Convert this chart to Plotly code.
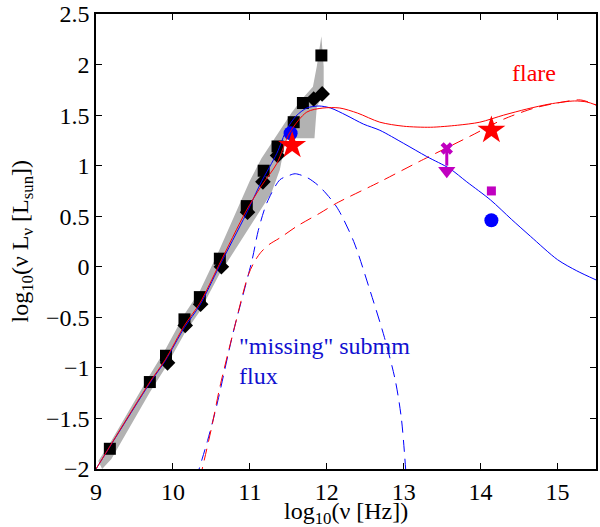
import plotly.graph_objects as go

# observed points (log10 nu, log10 nu L_nu)
sq_x = [9.18, 9.70, 9.91, 10.15, 10.35, 10.61, 10.96, 11.18, 11.36, 11.57, 11.69, 11.93]
sq_y = [-1.80, -1.14, -0.88, -0.52, -0.30, 0.08, 0.60, 0.95, 1.19, 1.43, 1.62, 2.09]
dia_x = [9.93, 10.16, 10.36, 10.63, 10.97, 11.17, 11.36, 11.83, 11.94]
dia_y = [-0.95, -0.58, -0.37, 0.00, 0.54, 0.84, 1.10, 1.66, 1.71]

# grey uncertainty band (upper edge going up, then lower edge coming back)
band_up_x = [9.03, 9.2, 9.7, 9.9, 10.15, 10.35, 10.6, 10.85, 11.0, 11.15, 11.35, 11.54, 11.69, 11.82, 11.87, 11.93]
band_up_y = [-1.92, -1.72, -1.07, -0.82, -0.47, -0.24, 0.16, 0.60, 0.85, 1.07, 1.30, 1.52, 1.67, 1.78, 1.98, 2.28]
band_lo_x = [11.96, 11.96, 11.87, 11.84, 11.47, 11.39, 11.28, 11.07, 10.9, 10.6, 10.35, 10.15, 9.9, 9.7, 9.2, 9.08]
band_lo_y = [1.98, 1.72, 1.58, 1.27, 1.27, 0.96, 0.73, 0.48, 0.28, -0.08, -0.44, -0.66, -1.00, -1.24, -1.90, -2.00]

# model curves
blue_x = [9.0, 9.7, 9.9, 10.15, 10.35, 10.6, 10.95, 11.15, 11.35, 11.48, 11.6, 11.74, 11.9, 12.05, 12.25, 12.48,
          12.69, 13.0, 13.3, 13.6, 13.82, 14.13, 14.4, 14.65, 15.0, 15.25, 15.5]
blue_y = [-2.0, -1.15, -0.93, -0.60, -0.38, 0.0, 0.52, 0.84, 1.12, 1.36, 1.49, 1.57, 1.59, 1.57, 1.50, 1.41,
          1.35, 1.22, 1.09, 0.97, 0.84, 0.66, 0.47, 0.30, 0.07, -0.04, -0.13]
red_x = [9.0, 9.7, 9.9, 10.15, 10.35, 10.6, 10.95, 11.15, 11.35, 11.52, 11.74, 11.95, 12.17, 12.4, 12.69, 13.0,
         13.35, 13.7, 13.99, 14.3, 14.6, 14.9, 15.22, 15.38, 15.5]
red_y = [-2.0, -1.14, -0.92, -0.58, -0.36, 0.02, 0.55, 0.80, 1.02, 1.33, 1.53, 1.57, 1.57, 1.52, 1.43, 1.39,
         1.38, 1.40, 1.43, 1.50, 1.56, 1.61, 1.64, 1.63, 1.60]
bdash_x = [10.3, 10.45, 10.57, 10.78, 11.03, 11.11, 11.22, 11.39, 11.5, 11.59, 11.75, 11.91, 12.13, 12.35, 12.56,
           12.75, 12.89, 12.97, 13.03]
bdash_y = [-2.1, -1.72, -1.37, -0.66, 0.07, 0.36, 0.63, 0.86, 0.90, 0.92, 0.88, 0.79, 0.59, 0.25, -0.23,
           -0.70, -1.12, -1.50, -2.05]
rdash_x = [10.35, 10.5, 10.61, 10.8, 10.98, 11.06, 11.14, 11.25, 11.4, 11.61, 11.91, 12.13, 12.69, 13.2, 13.86,
           14.3, 14.7, 15.0, 15.3, 15.5]
rdash_y = [-2.1, -1.6, -1.19, -0.6, -0.08, 0.05, 0.14, 0.22, 0.29, 0.40, 0.53, 0.63, 0.84, 1.04, 1.29,
           1.46, 1.57, 1.62, 1.65, 1.60]

# flare / other measurements
star_x = [11.55, 14.14]
star_y = [1.20, 1.35]
circ_x = [11.53, 14.14]
circ_y = [1.32, 0.46]
msq_x = [14.14]
msq_y = [0.75]
lim_x = 13.56
lim_top = 1.17
lim_bot = 0.95

serif = "'Liberation Serif', 'DejaVu Serif', serif"
magenta = "#c000c0"

fig = go.Figure()

fig.add_trace(go.Scatter(x=band_up_x + band_lo_x, y=band_up_y + band_lo_y, fill="toself",
                         fillcolor="rgb(178,178,178)", line=dict(width=0), mode="lines", hoverinfo="skip"))

fig.add_trace(go.Scatter(x=sq_x, y=sq_y, mode="markers",
                         marker=dict(symbol="square", size=12, color="black")))
fig.add_trace(go.Scatter(x=dia_x, y=dia_y, mode="markers",
                         marker=dict(symbol="diamond", size=12, color="black")))
fig.add_trace(go.Scatter(x=circ_x, y=circ_y, mode="markers",
                         marker=dict(symbol="circle", size=14, color="#0000ff")))

fig.add_trace(go.Scatter(x=bdash_x, y=bdash_y, mode="lines",
                         line=dict(color="#0000ff", width=1, dash="12px,7px", shape="spline", smoothing=0.8)))
fig.add_trace(go.Scatter(x=rdash_x, y=rdash_y, mode="lines",
                         line=dict(color="#ff0000", width=1, dash="12px,7px", shape="spline", smoothing=0.8)))
fig.add_trace(go.Scatter(x=blue_x, y=blue_y, mode="lines",
                         line=dict(color="#0000ff", width=1, shape="spline", smoothing=0.8)))
fig.add_trace(go.Scatter(x=red_x, y=red_y, mode="lines",
                         line=dict(color="#ff0000", width=1, shape="spline", smoothing=0.8)))

fig.add_trace(go.Scatter(x=star_x, y=star_y, mode="markers",
                         marker=dict(symbol="star", size=21, color="#ff0000", line=dict(width=0))))
fig.add_trace(go.Scatter(x=msq_x, y=msq_y, mode="markers",
                         marker=dict(symbol="square", size=9, color=magenta)))

# upper limit: cross with downward arrow
fig.add_trace(go.Scatter(x=[lim_x, lim_x], y=[lim_top, lim_bot + 0.05], mode="lines",
                         line=dict(color=magenta, width=3)))
fig.add_trace(go.Scatter(x=[lim_x], y=[lim_top], mode="markers",
                         marker=dict(symbol="x", size=11, color=magenta)))
fig.add_trace(go.Scatter(x=[lim_x], y=[lim_bot], mode="markers",
                         marker=dict(symbol="triangle-down", size=15, color=magenta)))

txt = dict(family=serif, size=24)
fig.add_annotation(x=14.69, y=1.92, text="flare", showarrow=False,
                   font=dict(txt, color="#ff0000"))
fig.add_annotation(x=10.83, y=-0.78, text="\"missing\" submm", showarrow=False, xanchor="left",
                   font=dict(txt, color="#1010d0"))
fig.add_annotation(x=10.83, y=-1.08, text="flux", showarrow=False, xanchor="left",
                   font=dict(txt, color="#1010d0"))

# axis titles as paper annotations so they can sit close to the tick labels
fig.add_annotation(xref="paper", yref="paper", x=0.5, y=-0.097, yanchor="middle",
                   text="log<sub>10</sub>(ν [Hz])", showarrow=False, font=dict(txt, color="black"))
fig.add_annotation(xref="paper", yref="paper", x=-0.15, y=0.5, xanchor="center", textangle=-90,
                   text="log<sub>10</sub>(ν L<sub>ν</sub> [L<sub>sun</sub>])", showarrow=False,
                   font=dict(txt, color="black"))

axis_style = dict(showgrid=False, zeroline=False, showline=True, linecolor="black", linewidth=1.5,
                  mirror="ticks", ticks="inside", ticklen=6, tickcolor="black", automargin=False,
                  tickfont=dict(txt, color="black"))

fig.update_xaxes(range=[9, 15.5], tickvals=[9, 10, 11, 12, 13, 14, 15], **axis_style)
fig.update_yaxes(range=[-2, 2.5], tickvals=[-2, -1.5, -1, -0.5, 0, 0.5, 1, 1.5, 2, 2.5], **axis_style)

fig.update_layout(width=600, height=527, margin=dict(l=96, r=4, t=14, b=58),
                  plot_bgcolor="white", paper_bgcolor="white", showlegend=False)

# drop the default 8px page margin so the figure fills the window
fig.write_html("out.html", config={"displayModeBar": False},
               post_script="document.body.style.margin = '0';")
